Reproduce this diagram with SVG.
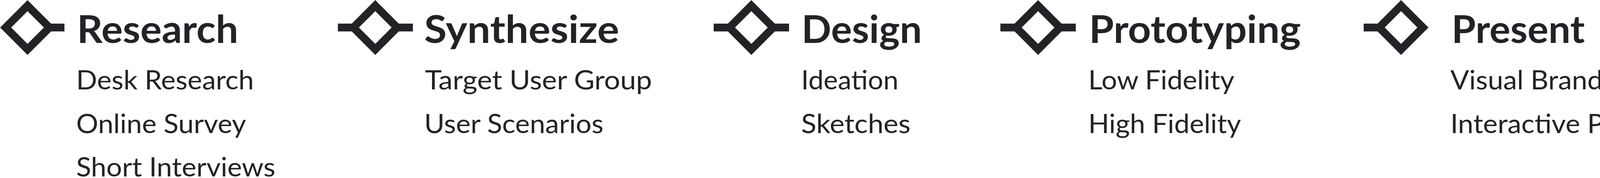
<svg xmlns="http://www.w3.org/2000/svg" width="4590" height="456" viewBox="0 0 4590 456">
<style>
.bg{fill:#ffffff}
.dia{fill:none;stroke:#222327;stroke-width:20;stroke-linejoin:miter}
.stub{stroke:#222327;stroke-width:20;stroke-linecap:butt}
.h{font-family:Lato,"Liberation Sans",sans-serif;font-weight:700;font-size:97px;fill:#222327}
.s{font-family:Lato,"Liberation Sans",sans-serif;font-weight:400;font-size:68px;fill:#222327}
</style>
<rect class="bg" x="0" y="0" width="4590" height="456"/>
<g id="connectors">
<line class="stub" x1="115" y1="70.5" x2="165" y2="70.5"/>
<line class="stub" x1="865" y1="70.5" x2="915" y2="70.5"/>
<line class="stub" x1="1006" y1="70.5" x2="1057" y2="70.5"/>
<line class="stub" x1="1827" y1="70.5" x2="1877" y2="70.5"/>
<line class="stub" x1="1970" y1="70.5" x2="2020" y2="70.5"/>
<line class="stub" x1="2561" y1="70.5" x2="2611" y2="70.5"/>
<line class="stub" x1="2704" y1="70.5" x2="2754" y2="70.5"/>
<line class="stub" x1="3491" y1="70.5" x2="3541" y2="70.5"/>
</g>
<g id="research">
<polygon class="dia" points="70.5,14.5 126.5,70.5 70.5,126.5 14.5,70.5"/>
<text class="h" x="197" y="110" textLength="413" lengthAdjust="spacingAndGlyphs">Research</text>
<text class="s" x="195" y="229" textLength="455" lengthAdjust="spacingAndGlyphs">Desk Research</text>
<text class="s" x="195" y="341" textLength="435" lengthAdjust="spacingAndGlyphs">Online Survey</text>
<text class="s" x="195" y="452" textLength="510" lengthAdjust="spacingAndGlyphs">Short Interviews</text>
</g>
<g id="synthesize">
<polygon class="dia" points="960.7,14.5 1016.7,70.5 960.7,126.5 904.7,70.5"/>
<text class="h" x="1086" y="110" textLength="499" lengthAdjust="spacingAndGlyphs">Synthesize</text>
<text class="s" x="1088" y="229" textLength="581" lengthAdjust="spacingAndGlyphs">Target User Group</text>
<text class="s" x="1086" y="341" textLength="459" lengthAdjust="spacingAndGlyphs">User Scenarios</text>
</g>
<g id="design">
<polygon class="dia" points="1923.5,14.5 1979.5,70.5 1923.5,126.5 1867.5,70.5"/>
<text class="h" x="2052" y="110" textLength="308" lengthAdjust="spacingAndGlyphs">Design</text>
<text class="s" x="2051" y="229" textLength="249" lengthAdjust="spacingAndGlyphs">Ideation</text>
<text class="s" x="2051" y="341" textLength="280" lengthAdjust="spacingAndGlyphs">Sketches</text>
</g>
<g id="prototyping">
<polygon class="dia" points="2657.5,14.5 2713.5,70.5 2657.5,126.5 2601.5,70.5"/>
<text class="h" x="2788" y="110" textLength="542" lengthAdjust="spacingAndGlyphs">Prototyping</text>
<text class="s" x="2786" y="229" textLength="374" lengthAdjust="spacingAndGlyphs">Low Fidelity</text>
<text class="s" x="2786" y="341" textLength="391" lengthAdjust="spacingAndGlyphs">High Fidelity</text>
</g>
<g id="present">
<polygon class="dia" points="3586.7,14.5 3642.7,70.5 3586.7,126.5 3530.7,70.5"/>
<text class="h" x="3716" y="110" textLength="341" lengthAdjust="spacingAndGlyphs">Present</text>
<text class="s" x="3713" y="229" textLength="875" lengthAdjust="spacingAndGlyphs">Visual Branding and Identity</text>
<text class="s" x="3713" y="341" textLength="660" lengthAdjust="spacingAndGlyphs">Interactive Prototype</text>
</g>
</svg>
